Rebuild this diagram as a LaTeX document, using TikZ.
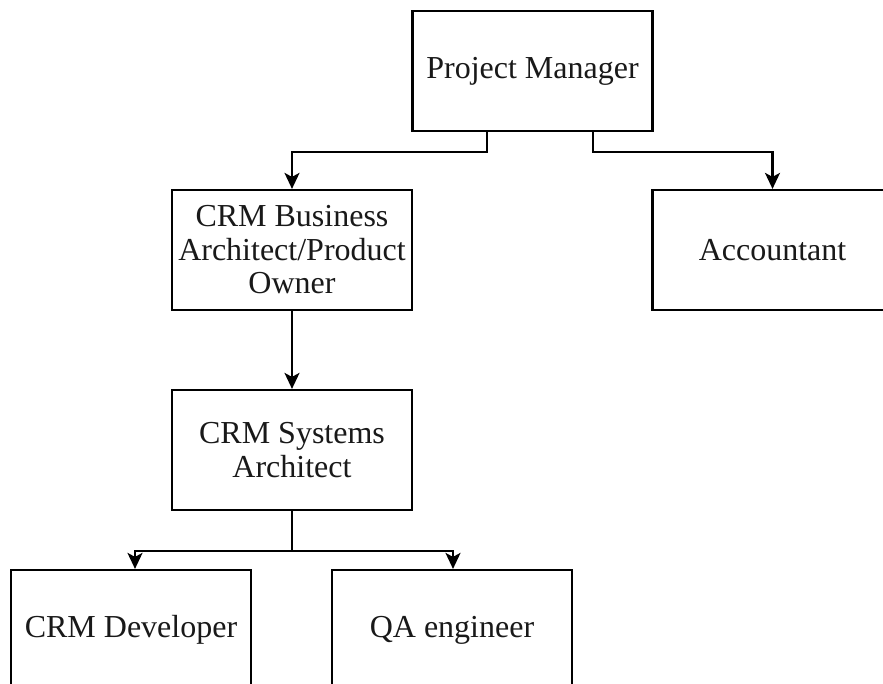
\documentclass[tikz,border=0pt]{standalone}
\usepackage{fontspec}
\setmainfont{Liberation Serif}
\usetikzlibrary{arrows.meta}
\begin{document}
\begin{tikzpicture}[x=1pt,y=1pt,
  role/.style={draw=black, line width=2.2pt, fill=white, rectangle,
    minimum width=240pt, minimum height=120pt, inner sep=2pt,
    align=center, text=black!90,
    font=\fontsize{32}{33.5}\selectfont},
  link/.style={draw=black, line width=2.2pt,
    -{Stealth[length=16pt,width=15pt,inset=4pt]}}]
  \useasboundingbox (0,0) rectangle (883,683);
  \clip (0,0) rectangle (883,683);
  \fill[white] (0,0) rectangle (883,683);

  % boxes of the team chart
  \node[role] (pm)  at (532.5,612) {Project Manager};
  \node[role] (ba)  at (292,433)   {CRM Business\\Architect/Product\\Owner};
  \node[role] (acc) at (772.5,433) {Accountant};
  \node[role] (sa)  at (292,233)   {CRM Systems\\Architect};
  \node[role] (dev) at (131,53)    {CRM Developer};
  \node[role] (qa)  at (452,53)    {QA engineer};

  % reporting lines
  \draw[link] ([xshift=-45.5pt]pm.south) -- ++(0,-20) -| (ba.north);
  \draw[link] ([xshift=60.5pt]pm.south) -- ++(0,-20) -| (acc.north);
  \draw[link] (ba.south) -- (sa.north);
  \draw[link] (sa.south) -- ++(0,-40) coordinate (split) -| ([xshift=4pt]dev.north);
  \draw[link] (split) -| ([xshift=1pt]qa.north);
\end{tikzpicture}
\end{document}
